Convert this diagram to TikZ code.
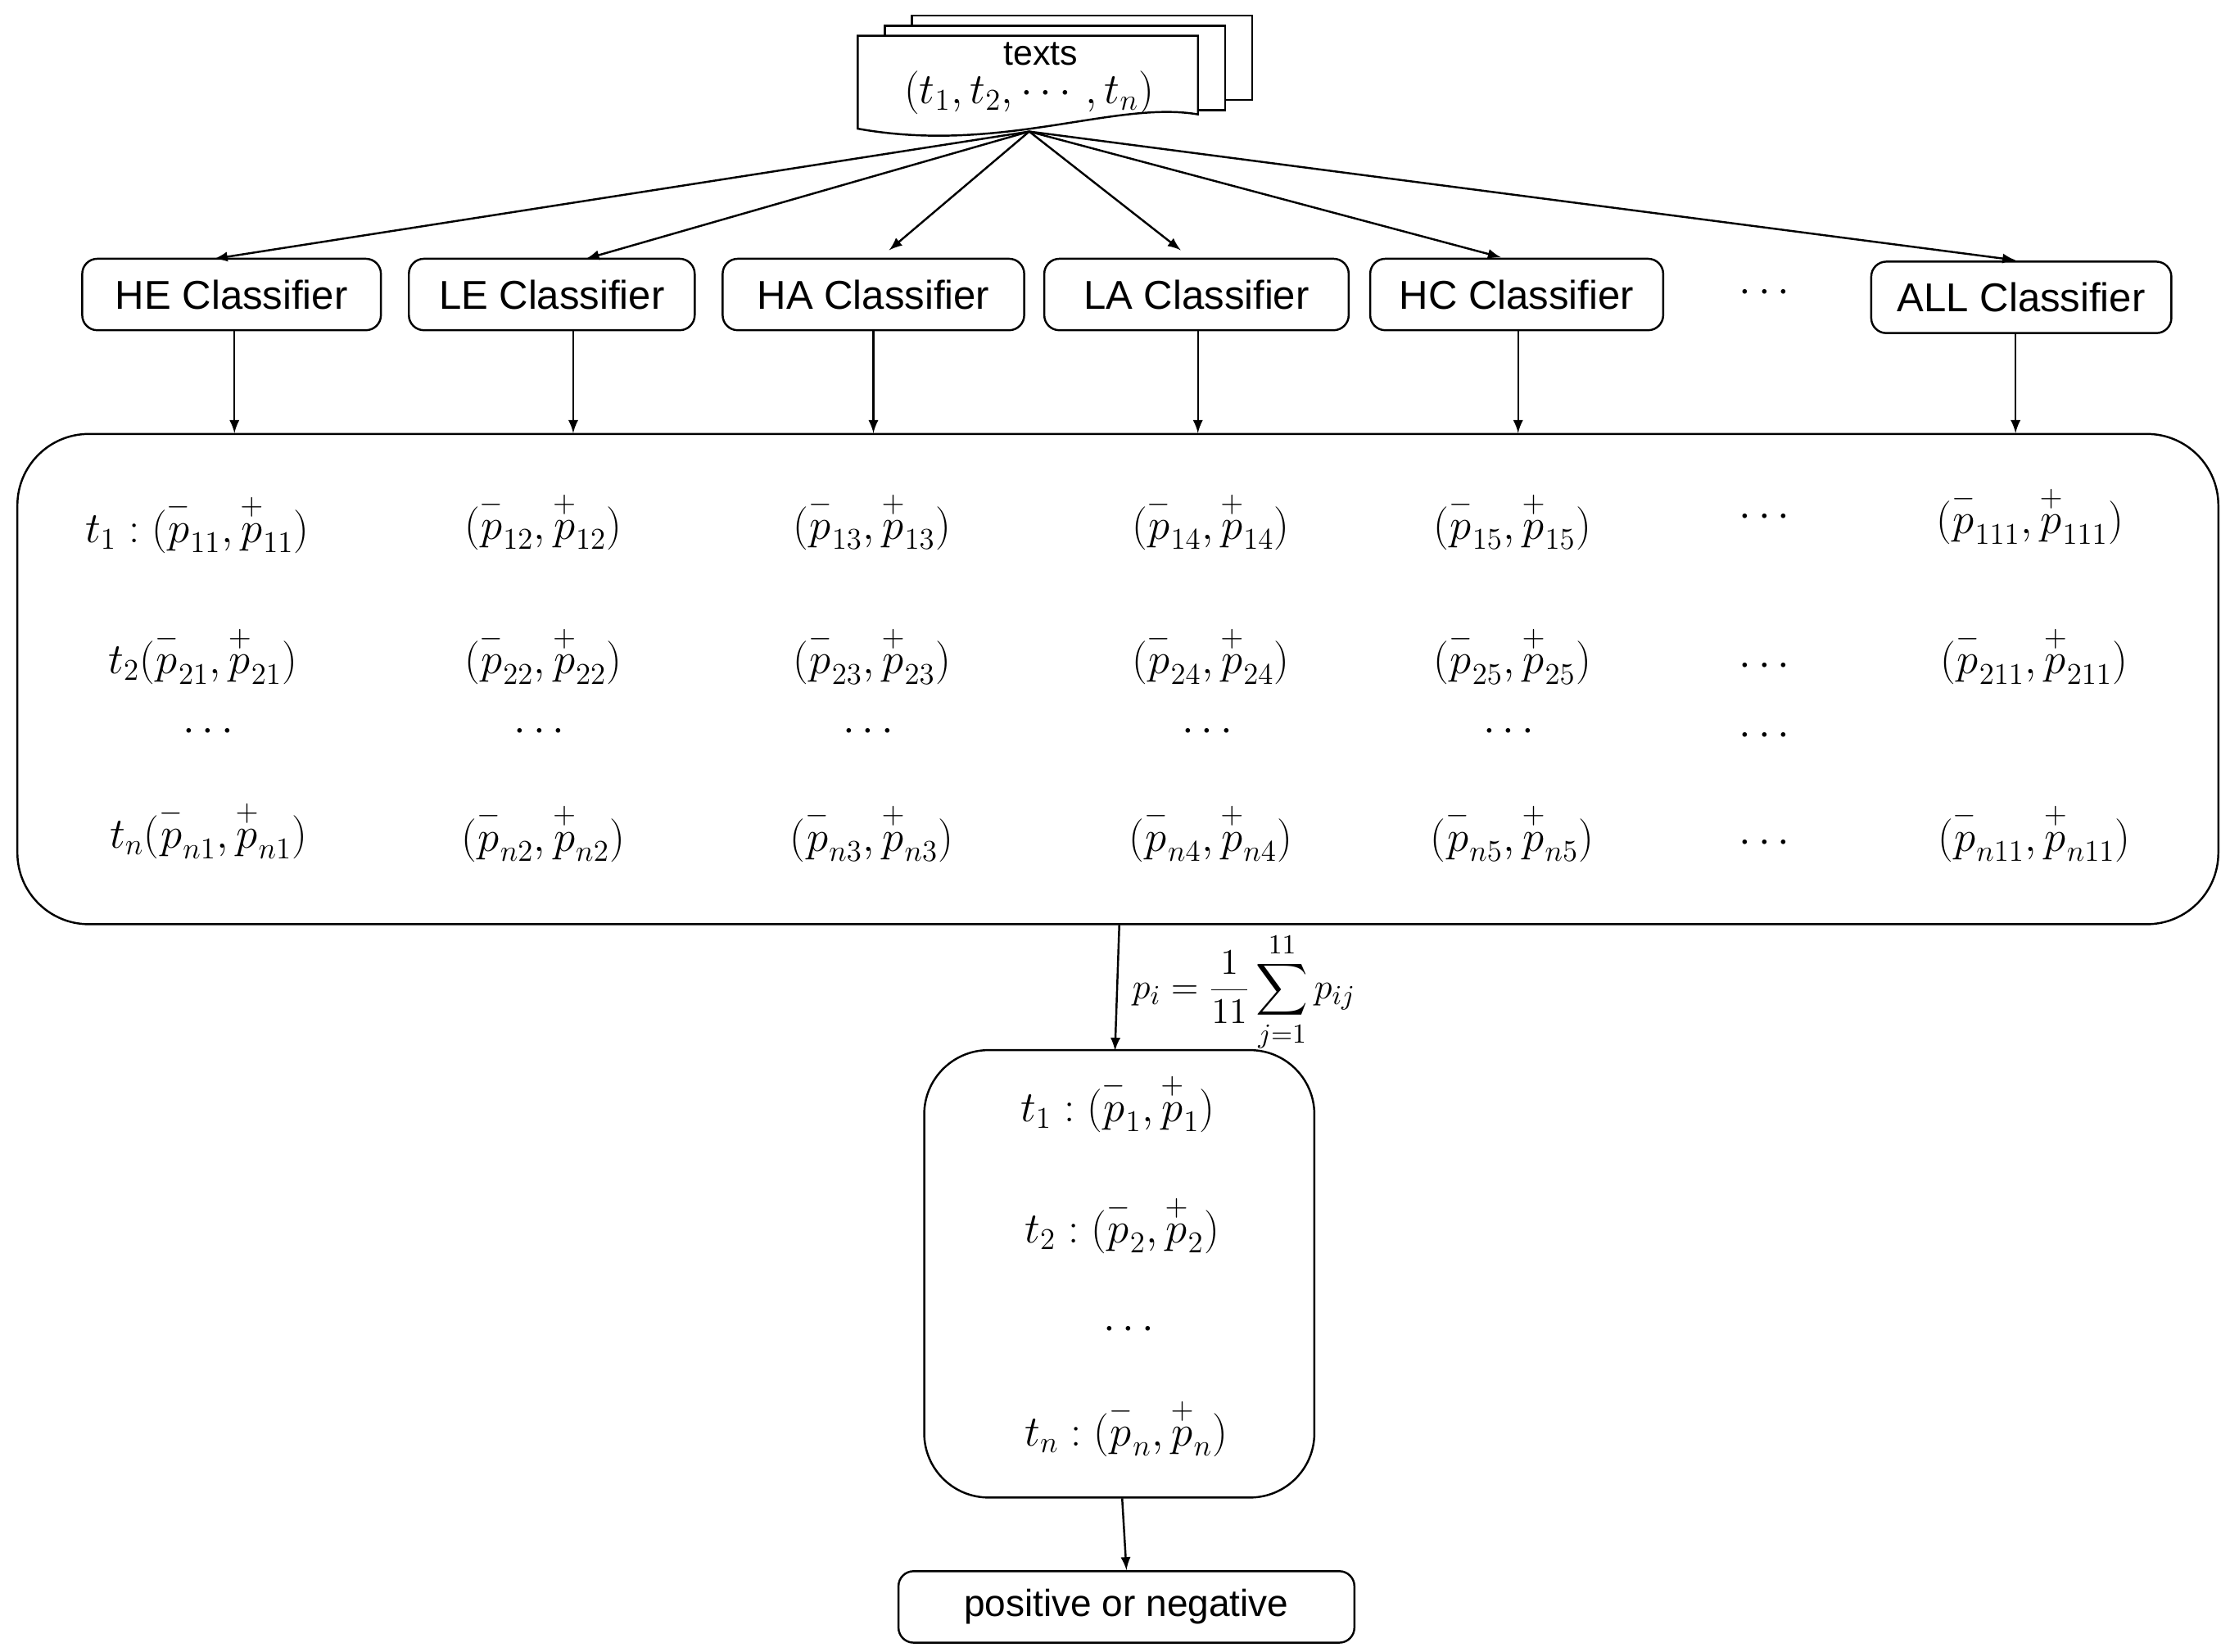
\documentclass[tikz,border=0pt]{standalone}
\usepackage{amsmath}
\usepackage{fontspec}
\setsansfont{Liberation Sans}
\begin{document}
\newcommand{\pmn}[1]{\overset{-}{p}_{#1}}
\newcommand{\ppl}[1]{\overset{+}{p}_{#1}}
\newcommand{\prr}[1]{(\pmn{#1},\ppl{#1})}
\begin{tikzpicture}[x=0.02cm,y=-0.02cm,font=\fontsize{17}{20}\selectfont,
  cls/.style={draw,rounded corners=6pt,thick,font=\sffamily\fontsize{16}{19}\selectfont,minimum height=1cm,inner sep=0pt},
  arr/.style={-latex,thick}]
\useasboundingbox (0,0) rectangle (1560,1155);
% texts stack
\draw[thick,fill=white] (638,11) rectangle (876,70);
\draw[thick,fill=white] (619,18) rectangle (857,77);
\draw[thick,fill=white] (600,25)--(838,25)--(838,80) .. controls (780,70) and (700,108) .. (600,90) -- cycle;
\node (tx) at (728,38) {\sffamily\fontsize{14}{16}\selectfont texts};
\node (tl) at (720,65) {$(t_1,t_2,\cdots,t_n)$};
\coordinate (src) at (720,92);
% classifiers
\node[cls,minimum width=4.18cm] (he) at (162,206) {HE Classifier};
\node[cls,minimum width=4.0cm] (le) at (386,206) {LE Classifier};
\node[cls,minimum width=4.22cm] (ha) at (611,206) {HA Classifier};
\node[cls,minimum width=4.26cm] (la) at (837,206) {LA Classifier};
\node[cls,minimum width=4.1cm] (hc) at (1061,206) {HC Classifier};
\node (cd) at (1237,205) {$\cdots$};
\node[cls,minimum width=4.2cm] (all) at (1414,208) {ALL Classifier};
\draw[arr] (src) -- (150,181);
\draw[arr] (src) -- (410,181);
\draw[arr] (src) -- (622,175);
\draw[arr] (src) -- (826,175);
\draw[arr] (src) -- (1050,180);
\draw[arr] (src) -- (1410,182);
% big box
\node[draw,thick,rounded corners=1cm,minimum width=30.8cm,minimum height=6.86cm] (big) at (782,475) {};
\foreach \n/\x in {he/164,le/401,ha/611,la/838,hc/1062,all/1410}{
  \draw[arr] (\n.south -| \x,0) -- (\x,303);}
% matrix entries
\node (a1) at (138,366) {$t_1:\prr{11}$};
\node (a2) at (142,458) {$t_2\prr{21}$};
\node (a3) at (148,512) {$\cdots$};
\node (a4) at (146,580) {$t_n\prr{n1}$};
\foreach \c/\x/\j in {b/380/2,c/610/3,d/847/4,e/1058/5}{
  \node (\c1) at (\x,364) {$\prr{1\j}$};
  \node (\c2) at (\x,458) {$\prr{2\j}$};
  \node (\c3) at (\x,512) {$\cdots$};
  \node (\c4) at (\x,582) {$\prr{n\j}$};}
\node (f1) at (1237,362) {$\cdots$};
\node (f2) at (1237,466) {$\cdots$};
\node (f3) at (1237,515) {$\cdots$};
\node (f4) at (1237,590) {$\cdots$};
\node (g1) at (1420,360) {$\prr{111}$};
\node (g2) at (1423,458) {$\prr{211}$};
\node (g4) at (1423,582) {$\prr{n11}$};
% second box
\node[draw,thick,rounded corners=0.9cm,minimum width=5.46cm,minimum height=6.26cm] (sb) at (783,891) {};
\draw[arr] (783,647) -- (780,735);
\node[anchor=west,font=\fontsize{15}{18}\selectfont] (fm) at (786,694) {$p_i=\dfrac{1}{11}\displaystyle\sum_{j=1}^{11}p_{ij}$};
\node (s1) at (782,771) {$t_1:\prr{1}$};
\node (s2) at (785,856) {$t_2:\prr{2}$};
\node (s3) at (792,930) {$\cdots$};
\node (s4) at (788,998) {$t_n:\prr{n}$};
% final
\node[cls,minimum width=6.38cm,font=\sffamily\fontsize{15}{18}\selectfont] (out) at (788,1124) {positive or negative};
\draw[arr] (785,1048) -- (out.north);
\end{tikzpicture}
\end{document}
